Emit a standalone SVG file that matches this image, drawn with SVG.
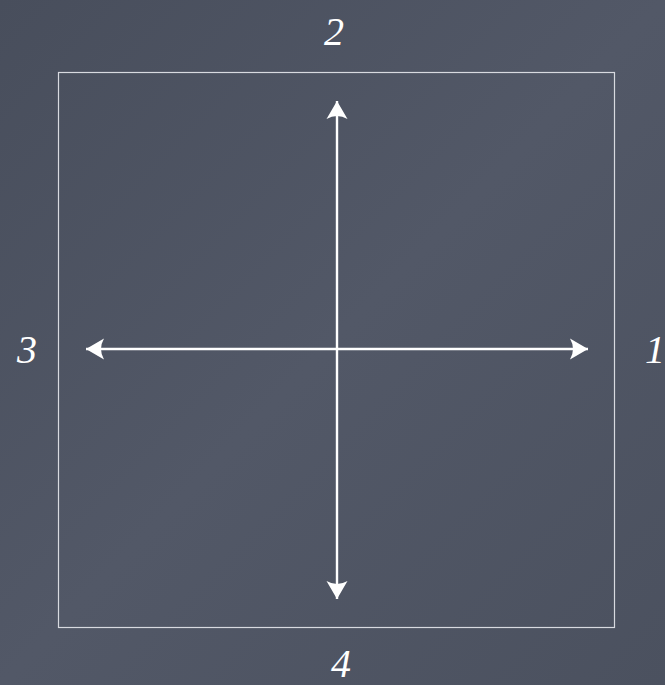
<svg xmlns="http://www.w3.org/2000/svg" width="665" height="685" viewBox="0 0 665 685">
<style>
.lbl{font-family:"Liberation Serif","DejaVu Serif",serif;font-style:italic;font-size:40px;fill:#ffffff;text-anchor:middle}
.ax{stroke:#ffffff;stroke-width:2.4;fill:none}
</style>
<defs>
<linearGradient id="bg" x1="0" y1="0" x2="1" y2="1">
<stop offset="0" stop-color="#484e5c"/>
<stop offset="0.5" stop-color="#525867"/>
<stop offset="1" stop-color="#4b515f"/>
</linearGradient>
<marker id="ah" viewBox="0 0 20 22" refX="18" refY="11" markerWidth="20" markerHeight="22" markerUnits="userSpaceOnUse" orient="auto-start-reverse">
<path d="M18,11 L0,0.5 Q6,11 0,21.5 Z" fill="#ffffff"/>
</marker>
</defs>
<rect width="665" height="685" fill="url(#bg)"/>
<g id="frame"><rect x="58.5" y="72.5" width="556" height="555" fill="none" stroke="#d8dae0" stroke-width="1.2"/></g>
<g id="connectors">
<line class="ax" x1="337" y1="101" x2="337" y2="599" marker-start="url(#ah)" marker-end="url(#ah)"/>
<line class="ax" x1="86" y1="349" x2="588" y2="349" marker-start="url(#ah)" marker-end="url(#ah)"/>
</g>
<g id="label1"><text class="lbl" x="655" y="363">1</text></g>
<g id="label2"><text class="lbl" x="334" y="45">2</text></g>
<g id="label3"><text class="lbl" x="27" y="363">3</text></g>
<g id="label4"><text class="lbl" x="341" y="677">4</text></g>
</svg>
